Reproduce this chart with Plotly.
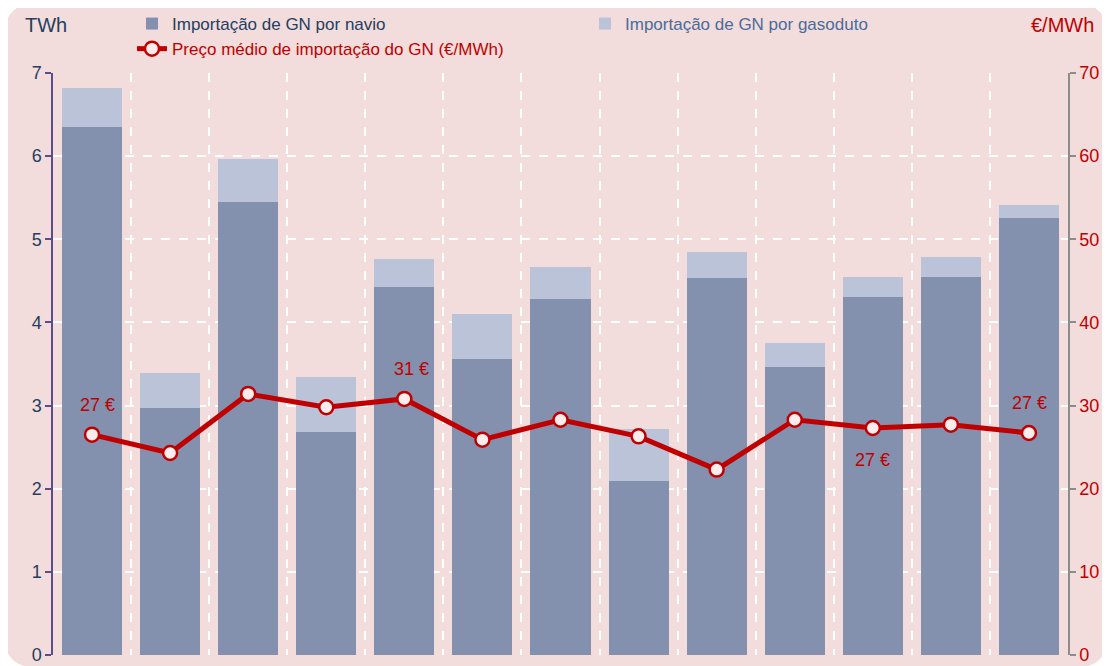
import plotly.graph_objects as go

# Data
periods = list(range(1, 14))
navio = [6.35, 2.97, 5.45, 2.68, 4.43, 3.56, 4.28, 2.09, 4.53, 3.46, 4.31, 4.55, 5.26]
total = [6.82, 3.39, 5.97, 3.34, 4.76, 4.10, 4.67, 2.72, 4.85, 3.75, 4.55, 4.79, 5.41]
gasoduto = [round(t - n, 2) for t, n in zip(total, navio)]
preco = [26.5, 24.3, 31.4, 29.8, 30.8, 25.9, 28.3, 26.3, 22.3, 28.3, 27.3, 27.7, 26.7]
# index: (text, yshift, xshift)
price_labels = {0: ("27 €", 30, 5), 4: ("31 €", 30, 7), 10: ("27 €", -32, 0), 12: ("27 €", 30, 1)}
left_ticks = [0, 1, 2, 3, 4, 5, 6, 7]
right_ticks = [0, 10, 20, 30, 40, 50, 60, 70]

W, H = 1110, 666
OFF = 8  # page body margin offset
ml, mt = 53 - OFF, 73 - OFF
pw, ph = 1015, 582
mr, mb = W - ml - pw, H - mt - ph

RED = "#C00000"
FONT = "Liberation Sans, Arial, sans-serif"

fig = go.Figure()
fig.add_trace(go.Bar(
    x=periods, y=navio, width=0.77,
    name="<span style='color:#243F60'>Importação de GN por navio</span>",
    marker=dict(color="#8391AE", line=dict(width=0)),
))
fig.add_trace(go.Bar(
    x=periods, y=gasoduto, width=0.77,
    name="<span style='color:#4A6C9B'>Importação de GN por gasoduto</span>",
    marker=dict(color="#BAC3D8", line=dict(width=0)),
))
fig.add_trace(go.Scatter(
    x=periods, y=preco, yaxis="y2", mode="lines+markers",
    name="<span style='color:#C00000'>Preço médio de importação do GN (€/MWh)</span>",
    line=dict(color=RED, width=5),
    marker=dict(size=14, color="#FCEDED", line=dict(color=RED, width=2.5)),
))

for i, (txt, ys, xs) in price_labels.items():
    fig.add_annotation(x=periods[i], y=preco[i], yref="y2", text=txt, showarrow=False,
                       yshift=ys, xshift=xs, font=dict(color=RED, size=18, family=FONT))


def px2paper(px, py):
    # reference-screen pixel -> paper coords
    return (px - 53) / pw, (655 - py) / ph


# rounded background
x0, y0, x1, y1, r = 4, 3, 1108, 668, 34
def P(x, y):
    a, b = px2paper(x, y)
    return f"{a:.5f},{b:.5f}"
path = (f"M {P(x0 + r, y0)} L {P(x1 - r, y0)} Q {P(x1, y0)} {P(x1, y0 + r)} "
        f"L {P(x1, y1 - r)} Q {P(x1, y1)} {P(x1 - r, y1)} "
        f"L {P(x0 + r, y1)} Q {P(x0, y1)} {P(x0, y1 - r)} "
        f"L {P(x0, y0 + r)} Q {P(x0, y0)} {P(x0 + r, y0)} Z")
fig.add_shape(type="path", path=path, xref="paper", yref="paper",
              fillcolor="#F2DCDC", line=dict(width=0), layer="below")

ax, ay = px2paper(46, 25)
fig.add_annotation(x=ax, y=ay, xref="paper", yref="paper", text="TWh", showarrow=False,
                   xanchor="center", yanchor="middle", font=dict(size=20, color="#243F60", family=FONT))
ax, ay = px2paper(1062, 25)
fig.add_annotation(x=ax, y=ay, xref="paper", yref="paper", text="€/MWh", showarrow=False,
                   xanchor="center", yanchor="middle", font=dict(size=20, color=RED, family=FONT))

lx, ly = px2paper(132, 6)
fig.update_layout(
    width=W, height=H,
    margin=dict(l=ml, r=mr, t=mt, b=mb, autoexpand=False),
    paper_bgcolor="white", plot_bgcolor="rgba(0,0,0,0)",
    barmode="stack",
    font=dict(family=FONT, size=17),
    showlegend=True,
    legend=dict(orientation="h", x=lx, y=ly, xanchor="left", yanchor="top",
                entrywidth=408, entrywidthmode="pixels", bgcolor="rgba(0,0,0,0)",
                font=dict(size=17, family=FONT), tracegroupgap=0,
                traceorder="normal"),
    xaxis=dict(range=[0.5, 13.5], tickvals=[p + 0.5 for p in periods[:-1]],
               showticklabels=False, ticks="", showgrid=True, gridcolor="white",
               gridwidth=1.5, griddash="dash", zeroline=False, showline=False),
    yaxis=dict(range=[0, 7], tickvals=left_ticks, showgrid=True, gridcolor="white",
               gridwidth=1.5, griddash="dash", zeroline=False,
               showline=True, linecolor="#5E4B8B", linewidth=1.5,
               ticks="outside", ticklen=6, tickcolor="#5E4B8B", tickwidth=1.5,
               tickfont=dict(size=18, color="#243F60", family=FONT)),
    yaxis2=dict(range=[0, 70], tickvals=right_ticks, overlaying="y", side="right",
                showgrid=False, zeroline=False, showline=True, linecolor="#8C8C8C",
                linewidth=1.5, ticks="outside", ticklen=6, tickcolor="#8C8C8C",
                tickwidth=1.5, tickfont=dict(size=18, color=RED, family=FONT)),
)

fig.write_html("out.html")
